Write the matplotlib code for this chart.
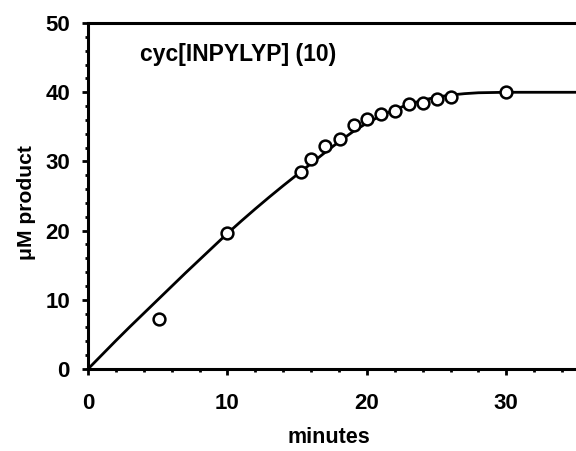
import matplotlib.pyplot as plt
from matplotlib.ticker import MultipleLocator

plt.rcParams['font.family'] = ['Liberation Sans', 'DejaVu Sans']
plt.rcParams['font.weight'] = 'bold'

# measured product formation
minutes = [5.1, 10.0, 15.3, 16.0, 17.0, 18.05, 19.05, 20.0, 21.0, 22.0, 23.05, 24.0, 25.05, 26.05, 30.0]
product = [7.3, 19.6, 28.5, 30.3, 32.2, 33.2, 35.3, 36.2, 36.9, 37.3, 38.3, 38.5, 39.0, 39.35, 40.0]

# fitted progress curve
fit_minutes = [0, 1, 2, 3, 4, 5, 6, 7, 8, 9, 10, 11, 12, 13, 14, 15, 16, 17, 18, 19,
               20, 21, 22, 23, 24, 25, 26, 27, 28, 30, 35]
fit_product = [0, 2.05, 4.1, 6.1, 8.05, 10.0, 11.95, 13.9, 15.8, 17.7, 19.6, 21.4, 23.15,
               24.85, 26.5, 28.1, 29.7, 31.3, 32.85, 34.3, 35.55, 36.6, 37.5, 38.25, 38.85,
               39.3, 39.6, 39.8, 39.93, 40.0, 40.0]

fig = plt.figure(figsize=(5.76, 4.51), dpi=100)
ax = fig.add_axes([0.1528, 0.1818, 0.8472, 0.767])

ax.plot(fit_minutes, fit_product, color='black', lw=2.0, zorder=2, clip_on=False)
ax.plot(minutes, product, 'o', ms=8.5, mfc='white', mec='black', mew=1.8, zorder=3)

ax.set_xlim(0, 35)
ax.set_ylim(0, 50)
ax.xaxis.set_major_locator(MultipleLocator(10))
ax.xaxis.set_minor_locator(MultipleLocator(2))
ax.yaxis.set_major_locator(MultipleLocator(10))
ax.yaxis.set_minor_locator(MultipleLocator(2))

for side in ['left', 'bottom', 'top']:
    ax.spines[side].set_linewidth(2.2)
ax.spines['right'].set_visible(False)

ax.tick_params(which='major', direction='out', length=4.5, width=2.0, labelsize=16)
ax.tick_params(axis='x', which='major', pad=12.5)
ax.tick_params(axis='y', which='major', pad=8.5)
ax.tick_params(which='minor', direction='out', length=2.5, width=2.0)
ax.tick_params(top=False, right=False, which='both')
for lbl in ax.get_xticklabels() + ax.get_yticklabels():
    lbl.set_fontweight('bold')

# axis titles placed in figure coordinates
fig.text(329 / 576, 1 - 443 / 451, 'minutes', fontsize=15.5, fontweight='bold',
         ha='center', va='baseline')
fig.text(26 / 576, 1 - 203 / 451, '\u03bcM product', fontsize=15.2, fontweight='bold',
         ha='center', va='center', rotation=90)

ax.text(3.75, 44.55, 'cyc[INPYLYP] (10)', fontsize=16.5, fontweight='bold',
        va='baseline', ha='left')

fig.savefig('out.png', dpi=100)
